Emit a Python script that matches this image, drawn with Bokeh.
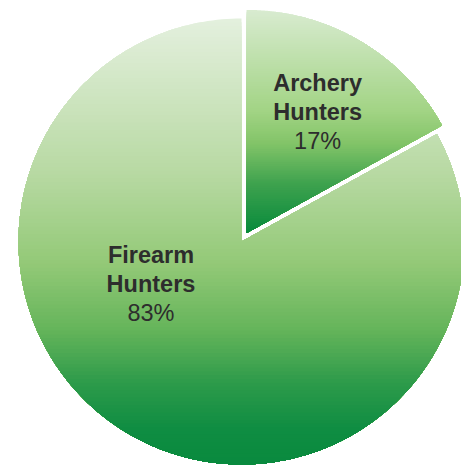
import numpy as np
from bokeh.plotting import figure
from bokeh.models import Range1d
from bokeh.core.properties import value
from bokeh.embed import file_html
from bokeh.resources import INLINE

# ---- data ----
categories = ["Archery Hunters", "Firearm Hunters"]
shares = [17, 83]
label_line1 = ["Archery", "Firearm"]
label_line2 = ["Hunters", "Hunters"]
pct_labels = ["17%", "83%"]

# ---- style ----
W, H = 461, 465
R = 223
explode = [10, 0]
label_pos = [(71, 121), (-90.5, -42)]  # offsets from the slice vertex (px)
line_gap = 29
font_size = "23.5px"
grad_stops = [
    [(0.0, "#d8ebd0"), (0.45, "#a3d485"), (0.6, "#82c468"), (0.78, "#3ea24e"), (1.0, "#078a3c")],
    [(0.0, "#e4f0de"), (0.35, "#b7d9a2"), (0.55, "#93c977"), (0.7, "#64b45a"),
     (0.82, "#2c9a4a"), (0.92, "#0f8d42"), (1.0, "#098a3e")],
]

def hex2rgb(h):
    return np.array([int(h[i:i + 2], 16) for i in (1, 3, 5)], float)

def grad(stops, t):
    for (t0, c0), (t1, c1) in zip(stops[:-1], stops[1:]):
        if t <= t1:
            f = (t - t0) / (t1 - t0) if t1 > t0 else 0
            c = hex2rgb(c0) * (1 - f) + hex2rgb(c1) * f
            return "#%02x%02x%02x" % tuple(int(round(v)) for v in c)
    return stops[-1][1]

def clip_below(poly, y0):
    out = []
    n = len(poly)
    for i in range(n):
        a, b = poly[i], poly[(i + 1) % n]
        ina, inb = a[1] <= y0, b[1] <= y0
        if ina:
            out.append(a)
        if ina != inb:
            f = (y0 - a[1]) / (b[1] - a[1])
            out.append((a[0] + f * (b[0] - a[0]), y0))
    return out

cx, cy = 241, 241
p = figure(width=W, height=H, output_backend="svg", toolbar_location=None,
           x_range=Range1d(-cx, W - cx), y_range=Range1d(-(H - cy), cy),
           min_border=0, border_fill_color="white", outline_line_color=None)
p.axis.visible = False
p.grid.visible = False

total = sum(shares)
start = np.pi / 2
angles = []
for s in shares:
    sweep = 2 * np.pi * s / total
    angles.append((start - sweep, start))
    start -= sweep

for i, (a0, a1) in enumerate(angles):
    mid = (a0 + a1) / 2
    ox, oy = explode[i] * np.cos(mid), explode[i] * np.sin(mid)
    th = np.linspace(a0, a1, 240)
    poly = [(ox, oy)] + [(ox + R * np.cos(t), oy + R * np.sin(t)) for t in th]
    ys = [q[1] for q in poly]
    ytop, ybot = max(ys), min(ys)
    n = 120
    xs_list, ys_list, cols = [], [], []
    edges = np.linspace(ytop, ybot, n + 1)
    for k in range(n):
        pc = clip_below(poly, edges[k] + 0.01)
        if len(pc) < 3:
            continue
        xs_list.append([q[0] for q in pc])
        ys_list.append([q[1] for q in pc])
        cols.append(grad(grad_stops[i], (k + 0.5) / n))
    p.patches(xs_list, ys_list, fill_color=cols, line_color=None)
    lx, ly = ox + label_pos[i][0], oy + label_pos[i][1]
    p.text([lx], [ly + line_gap], text=[label_line1[i]], text_align="center", text_baseline="middle",
           text_font=value("Liberation Sans"), text_font_size=font_size, text_font_style="bold",
           text_color="#2d2d2d")
    p.text([lx], [ly], text=[label_line2[i]], text_align="center", text_baseline="middle",
           text_font=value("Liberation Sans"), text_font_size=font_size, text_font_style="bold",
           text_color="#2d2d2d")
    p.text([lx], [ly - line_gap], text=[pct_labels[i]], text_align="center", text_baseline="middle",
           text_font=value("Liberation Sans"), text_font_size=font_size,
           text_color="#2d2d2d")

open("out.html", "w").write(file_html(p, INLINE))
